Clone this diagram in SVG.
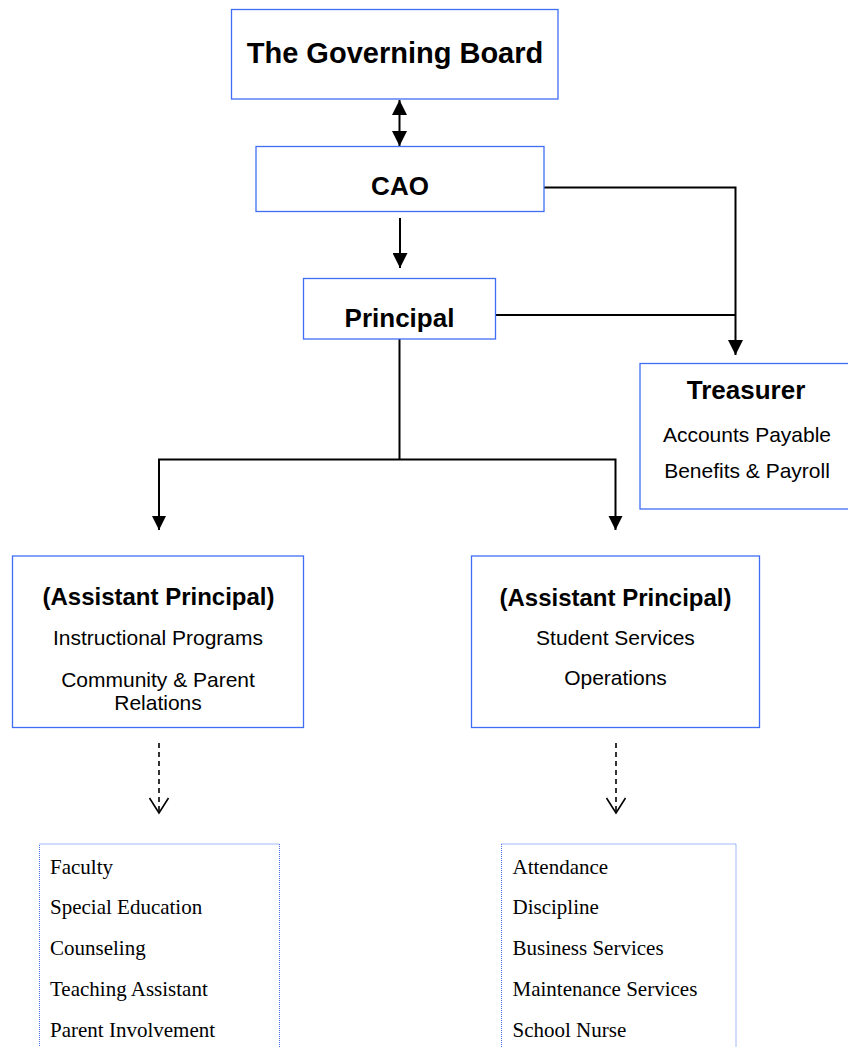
<svg xmlns="http://www.w3.org/2000/svg" width="848" height="1047" viewBox="0 0 848 1047">
<style>
.box{fill:#fff;stroke:#3f6ef5;stroke-width:1.3}
.dbox{fill:#fff;stroke:#4a72f0;stroke-width:1;stroke-dasharray:1 1}
.b{font-family:"Liberation Sans",Arial,sans-serif;font-weight:bold;fill:#000;text-anchor:middle}
.r{font-family:"Liberation Sans",Arial,sans-serif;fill:#000;text-anchor:middle}
.s{font-family:"Liberation Serif","Times New Roman",serif;fill:#000}
.ln{fill:none;stroke:#000;stroke-width:2}
.dl{fill:none;stroke:#000;stroke-width:1.6;stroke-dasharray:5 4}
.vh{fill:none;stroke:#000;stroke-width:1.6}
</style>
<defs>
<marker id="ah" viewBox="0 0 10 10" refX="10" refY="5" markerWidth="15" markerHeight="15" markerUnits="userSpaceOnUse" orient="auto-start-reverse">
<path d="M0,0 L10,5 L0,10 Z" fill="#000"/>
</marker>
</defs>
<rect width="848" height="1047" fill="#fff"/>
<g id="connectors">
<line class="ln" x1="399.5" y1="100" x2="399.5" y2="146" marker-start="url(#ah)" marker-end="url(#ah)"/>
<line class="ln" x1="400" y1="218" x2="400" y2="268" marker-end="url(#ah)"/>
<polyline class="ln" points="544,187.5 735.5,187.5 735.5,355" marker-end="url(#ah)"/>
<line class="ln" x1="496" y1="315" x2="735.5" y2="315"/>
<line class="ln" x1="399.5" y1="339" x2="399.5" y2="459.5"/>
<polyline class="ln" points="159,530 159,459.5 615.5,459.5 615.5,530"/>
<path d="M159,516 L152,516 L159,530 L166,516 Z" fill="#000"/>
<path d="M615.5,516 L608.5,516 L615.5,530 L622.5,516 Z" fill="#000"/>
<line class="dl" x1="159" y1="743" x2="159" y2="812"/>
<polyline class="vh" points="149.5,798 159,813 168.5,798"/>
<line class="dl" x1="616" y1="743" x2="616" y2="812"/>
<polyline class="vh" points="606.5,798 616,813 625.5,798"/>
</g>
<g id="board">
<rect class="box" x="231.5" y="9.5" width="326.5" height="89.5"/>
<text class="b" x="395" y="63" font-size="29">The Governing Board</text>
</g>
<g id="cao">
<rect class="box" x="256" y="146.5" width="288" height="65"/>
<text class="b" x="400" y="195" font-size="26">CAO</text>
</g>
<g id="principal">
<rect class="box" x="303.5" y="278.5" width="192" height="60.5"/>
<text class="b" x="399.5" y="326.5" font-size="26">Principal</text>
</g>
<g id="treasurer">
<rect class="box" x="640" y="363.5" width="220" height="145.5"/>
<text class="b" x="746" y="399" font-size="26">Treasurer</text>
<text class="r" x="747" y="442" font-size="21">Accounts Payable</text>
<text class="r" x="747" y="478" font-size="21">Benefits &amp; Payroll</text>
</g>
<g id="ap-left">
<rect class="box" x="12.5" y="556" width="291" height="171.5"/>
<text class="b" x="158.5" y="605" font-size="24">(Assistant Principal)</text>
<text class="r" x="158" y="645" font-size="21">Instructional Programs</text>
<text class="r" x="158" y="686.5" font-size="21">Community &amp; Parent</text>
<text class="r" x="158" y="710" font-size="21">Relations</text>
</g>
<g id="ap-right">
<rect class="box" x="471.5" y="556" width="288" height="171.5"/>
<text class="b" x="615.5" y="606" font-size="24">(Assistant Principal)</text>
<text class="r" x="615.5" y="645" font-size="21">Student Services</text>
<text class="r" x="615.5" y="685" font-size="21">Operations</text>
</g>
<g id="list-left">
<rect class="dbox" x="39.5" y="844" width="240" height="220"/>
<text class="s" x="50" y="873.5" font-size="21">Faculty</text>
<text class="s" x="50" y="914" font-size="21">Special Education</text>
<text class="s" x="50" y="955" font-size="21">Counseling</text>
<text class="s" x="50" y="995.5" font-size="21">Teaching Assistant</text>
<text class="s" x="50" y="1036.5" font-size="21">Parent Involvement</text>
</g>
<g id="list-right">
<rect class="dbox" x="501.5" y="844" width="234.5" height="220"/>
<text class="s" x="512.5" y="873.5" font-size="21">Attendance</text>
<text class="s" x="512.5" y="914" font-size="21">Discipline</text>
<text class="s" x="512.5" y="955" font-size="21">Business Services</text>
<text class="s" x="512.5" y="995.5" font-size="21">Maintenance Services</text>
<text class="s" x="512.5" y="1036.5" font-size="21">School Nurse</text>
</g>
</svg>
